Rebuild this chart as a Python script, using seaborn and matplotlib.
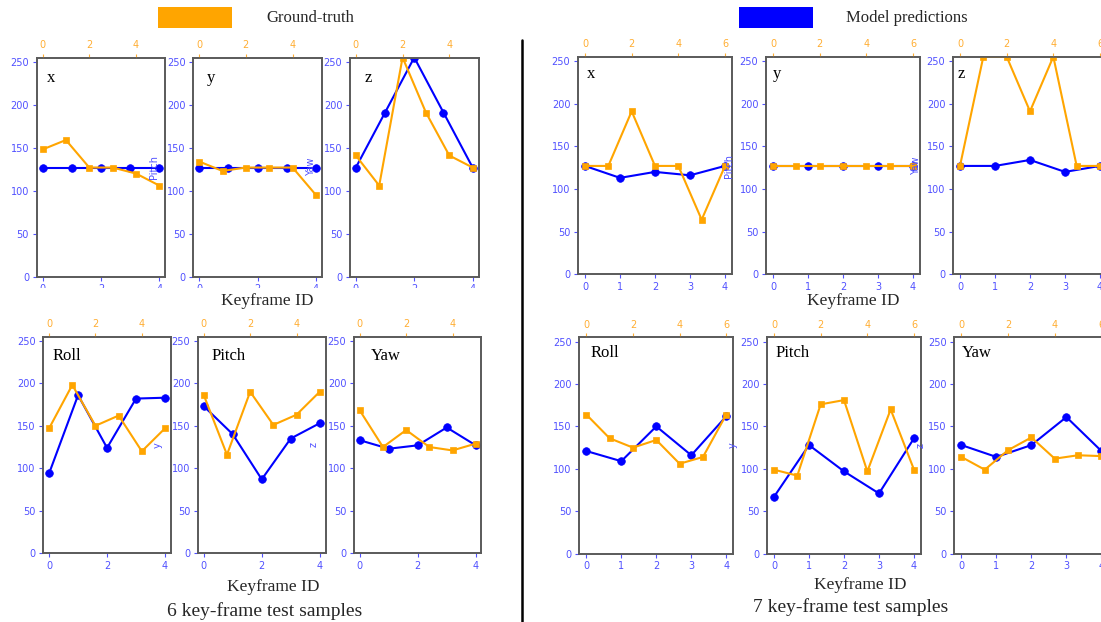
import matplotlib
matplotlib.use("Agg")
import matplotlib.pyplot as plt
from matplotlib.patches import Rectangle
from matplotlib.lines import Line2D
import seaborn as sns

# ---- data ---------------------------------------------------------------
names = ["x", "y", "z", "Roll", "Pitch", "Yaw"]
side_labels = ["", "Pitch", "Yaw", "", "y", "z"]

# 6 key-frame test samples (ground truth: one value per key-frame, top axis)
gt6_x = [148, 159, 127, 127, 120, 106]
gt6_y = [134, 123, 127, 127, 127, 95]
gt6_z = [141, 106, 255, 191, 141, 127]
gt6_roll = [147, 198, 150, 162, 120, 147]
gt6_pitch = [186, 116, 190, 151, 163, 190]
gt6_yaw = [168, 125, 145, 125, 121, 129]
# model predictions (bottom axis, 0-4)
pred6_x = [127, 127, 127, 127, 127]
pred6_y = [127, 127, 127, 127, 127]
pred6_z = [127, 191, 255, 191, 127]
pred6_roll = [94, 186, 124, 182, 183]
pred6_pitch = [173, 140, 87, 135, 153]
pred6_yaw = [133, 123, 127, 148, 127]

# 7 key-frame test samples
gt7_x = [127, 127, 191, 127, 127, 64, 127]
gt7_y = [127, 127, 127, 127, 127, 127, 127]
gt7_z = [127, 255, 255, 191, 255, 127, 127]
gt7_roll = [164, 136, 125, 134, 106, 114, 164]
gt7_pitch = [99, 92, 176, 181, 97, 170, 99]
gt7_yaw = [114, 99, 122, 137, 112, 116, 115]
pred7_x = [127, 113, 120, 116, 127]
pred7_y = [127, 127, 127, 127, 127]
pred7_z = [127, 127, 134, 120, 127]
pred7_roll = [121, 109, 150, 116, 162]
pred7_pitch = [67, 128, 97, 71, 136]
pred7_yaw = [128, 114, 128, 161, 121]

yticks = [0, 50, 100, 150, 200, 250]

gt6 = [gt6_x, gt6_y, gt6_z, gt6_roll, gt6_pitch, gt6_yaw]
pred6 = [pred6_x, pred6_y, pred6_z, pred6_roll, pred6_pitch, pred6_yaw]
gt7 = [gt7_x, gt7_y, gt7_z, gt7_roll, gt7_pitch, gt7_yaw]
pred7 = [pred7_x, pred7_y, pred7_z, pred7_roll, pred7_pitch, pred7_yaw]

# ---- styling -------------------------------------------------------------
BLUE = "#0000ff"
ORANGE = "#ffa500"
TICK_BLUE = "#5050ff"
TICK_ORANGE = "#ffae33"
SPINE = "#5a5a5a"
SERIF = ["Liberation Serif", "DejaVu Serif"]

sns.set_style("ticks")
plt.rcParams["font.family"] = ["DejaVu Sans"]

W, H = 1101, 622
fig = plt.figure(figsize=(W / 100, H / 100), dpi=100)
fig.patch.set_facecolor("white")

# axes boxes in pixels: (lefts, top, bottom, width), name offsets (dx, dy), ylabel x-offset
panels = [
    dict(gt=gt6, pred=pred6, xt_bot=[0, 2, 4], xt_top=[0, 2, 4],
         rows=[dict(lefts=[36.7, 193.3, 350.0], top=57.5, bottom=276.7, width=128.5,
                    name_dx=[10, 13, 15], name_dy=20, lab_dx=-34),
               dict(lefts=[43.3, 198.0, 354.0], top=336.5, bottom=553.3, width=127.5,
                    name_dx=[9, 14, 17], name_dy=20, lab_dx=-35)]),
    dict(gt=gt7, pred=pred7, xt_bot=[0, 1, 2, 3, 4], xt_top=[0, 2, 4, 6],
         rows=[dict(lefts=[578.0, 766.0, 953.0], top=56.7, bottom=274.3, width=154.0,
                    name_dx=[9, 7, 5], name_dy=17, lab_dx=-32),
               dict(lefts=[579.3, 767.0, 954.4], top=337.3, bottom=553.7, width=154.0,
                    name_dx=[11, 9, 7], name_dy=16, lab_dx=-29)]),
]


def px_axes(left, top, width, bottom):
    return fig.add_axes([left / W, 1 - bottom / H, width / W, (bottom - top) / H])


for panel in panels:
    for r, row in enumerate(panel["rows"]):
        for c in range(3):
            k = r * 3 + c
            ax = px_axes(row["lefts"][c], row["top"], row["width"], row["bottom"])
            ax_top = ax.twiny()

            pred = panel["pred"][k]
            gt = panel["gt"][k]
            sns.lineplot(x=list(range(len(pred))), y=pred, ax=ax, color=BLUE,
                         marker="o", markersize=5.5, markeredgecolor=BLUE,
                         markeredgewidth=0.5, linewidth=1.5)
            sns.lineplot(x=list(range(len(gt))), y=gt, ax=ax_top, color=ORANGE,
                         marker="s", markersize=5, markeredgecolor=ORANGE,
                         markeredgewidth=0.5, linewidth=1.5)

            ax.set_ylim(0, 255)
            ax.set_yticks(yticks)
            ax.set_xticks(panel["xt_bot"])
            ax_top.set_xticks(panel["xt_top"])
            ax.set_xlabel("")
            ax_top.set_xlabel("")
            ax.tick_params(axis="both", colors=TICK_BLUE, labelsize=7,
                           length=3, width=0.8, pad=2.5)
            ax_top.tick_params(axis="x", colors=TICK_ORANGE, labelsize=7,
                               length=3, width=0.8, pad=2.5)
            for a in (ax, ax_top):
                for sp in a.spines.values():
                    sp.set_visible(True)
                    sp.set_color(SPINE)
                    sp.set_linewidth(1.2)

            ax.annotate(names[k], xy=(0, 1), xycoords="axes fraction",
                        xytext=(row["name_dx"][c], -row["name_dy"]),
                        textcoords="offset pixels", ha="left", va="center",
                        fontsize=12, family=SERIF, color="black")
            if side_labels[k]:
                ax.set_ylabel(side_labels[k], color=TICK_BLUE, fontsize=7)
                ax.yaxis.set_label_coords(row["lab_dx"] / row["width"], 0.5)
            else:
                ax.set_ylabel("")

# mask that clips the lower half of the left panel's first-row tick labels
fig.add_artist(Rectangle((0, 1 - 297 / H), 520 / W, 9.5 / H, transform=fig.transFigure,
                         facecolor="white", edgecolor="none", zorder=1))

# legend swatches
fig.add_artist(Rectangle((158 / W, 1 - 27.7 / H), 74 / W, 20.7 / H,
                         transform=fig.transFigure, facecolor=ORANGE, edgecolor="none"))
fig.text(266.7 / W, 1 - 18.5 / H, "Ground-truth", ha="left", va="center",
         fontsize=12, family=SERIF)
fig.add_artist(Rectangle((739 / W, 1 - 27.7 / H), 74 / W, 20.7 / H,
                         transform=fig.transFigure, facecolor=BLUE, edgecolor="none"))
fig.text(846 / W, 1 - 18.5 / H, "Model predictions", ha="left", va="center",
         fontsize=12, family=SERIF)

# axis captions
for x, y in [(267, 301), (273, 587), (853, 301), (860, 585)]:
    fig.text(x / W, 1 - y / H, "Keyframe ID", ha="center", va="center",
             fontsize=12.5, family=SERIF, zorder=3)
fig.text(265 / W, 1 - 611 / H, "6 key-frame test samples", ha="center", va="center",
         fontsize=14, family=SERIF)
fig.text(851 / W, 1 - 607 / H, "7 key-frame test samples", ha="center", va="center",
         fontsize=14, family=SERIF)

# divider between the two sample groups
fig.add_artist(Line2D([522 / W, 522 / W], [1 - 40 / H, 0], transform=fig.transFigure,
                      color="black", linewidth=1.8))

fig.savefig("out.png", dpi=100, facecolor="white")
